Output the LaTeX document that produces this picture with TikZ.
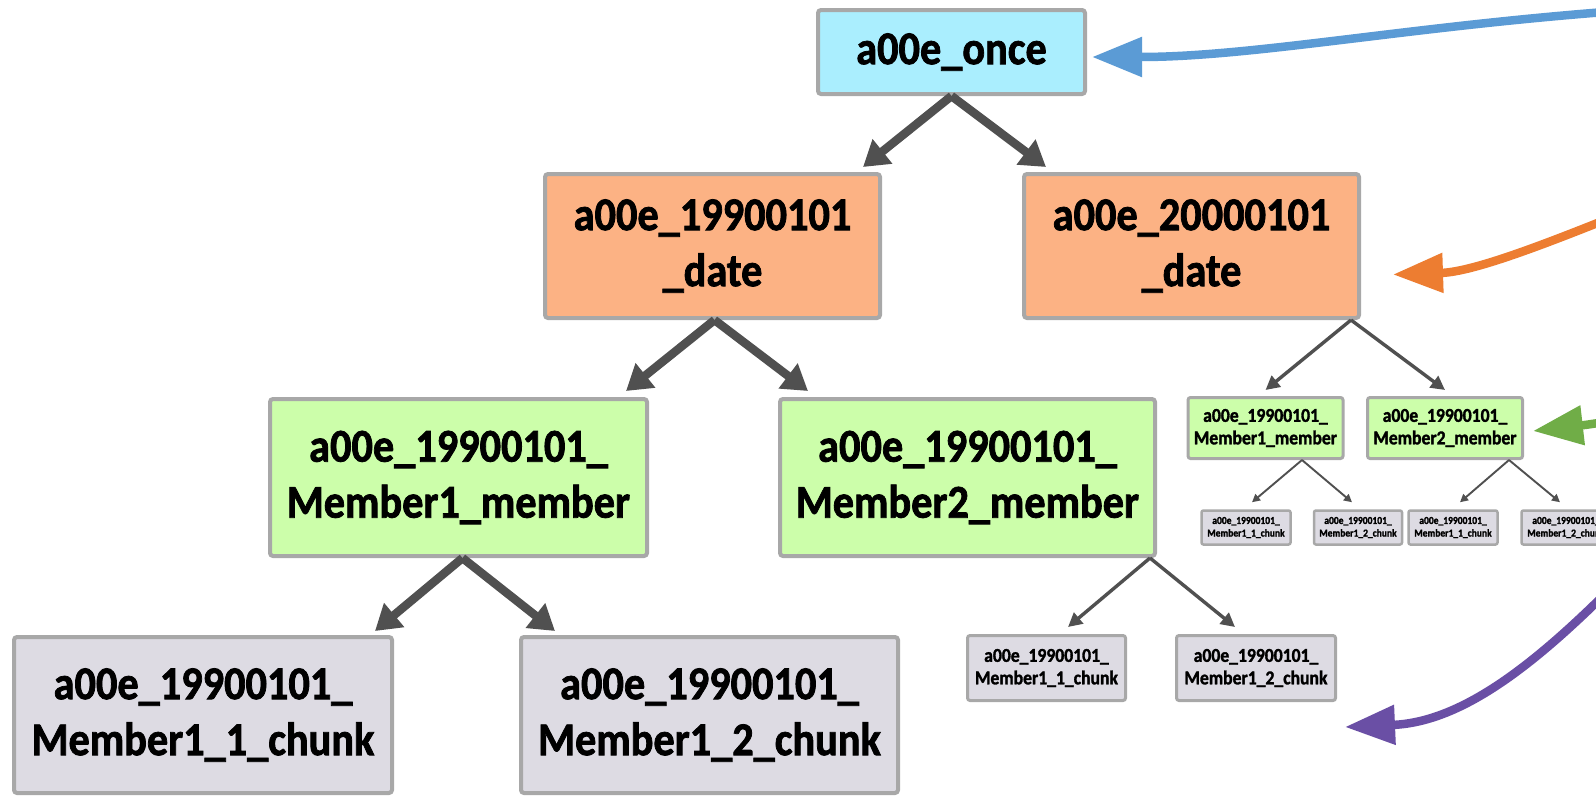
\documentclass[tikz,border=0pt]{standalone}
\usepackage{fontspec}
\setmainfont{Carlito}
\newfontfamily\lblfont[FakeStretch=0.9,FakeBold=1.6]{Carlito Bold}
\usetikzlibrary{arrows.meta}

\definecolor{oncefill}{RGB}{170,238,254}
\definecolor{datefill}{RGB}{252,178,132}
\definecolor{memberfill}{RGB}{204,254,170}
\definecolor{chunkfill}{RGB}{221,219,227}
\definecolor{boxline}{RGB}{168,168,168}
\definecolor{edgegray}{RGB}{80,80,80}
\definecolor{callblue}{RGB}{91,155,213}
\definecolor{callorange}{RGB}{237,125,49}
\definecolor{callgreen}{RGB}{112,173,71}
\definecolor{callpurple}{RGB}{106,79,165}

\begin{document}
\begin{tikzpicture}[x=1pt,y=-1pt,
  box/.style={draw=boxline, align=center, inner sep=0pt, text=black},
  sz/.style 2 args={minimum width=#1pt, minimum height=#2pt},
  bigbox/.style={box, line width=4pt, rounded corners=3pt,
    font=\lblfont\fontsize{47}{56}\selectfont},
  midbox/.style={box, line width=3pt, rounded corners=2.5pt,
    font=\lblfont\fontsize{19.6}{22.5}\selectfont},
  tinybox/.style={box, line width=2.5pt, rounded corners=2pt,
    font=\lblfont\fontsize{10.6}{12.6}\selectfont},
  oncebox/.style={fill=oncefill},
  datebox/.style={fill=datefill},
  memberbox/.style={fill=memberfill},
  chunkbox/.style={fill=chunkfill},
  bigedge/.style={draw=edgegray, line width=8.5pt,
    -{Triangle[length=25pt,width=30pt]}},
  midedge/.style={draw=edgegray, line width=3.4pt,
    -{Triangle[length=14pt,width=14pt]}},
  tinyedge/.style={draw=edgegray, line width=1.9pt,
    -{Triangle[length=8pt,width=8pt]}},
  callout/.style={line width=8.5pt, -{Triangle[length=50pt,width=38pt]}}
]
\useasboundingbox (0,0) rectangle (1596,796);
\clip (0,0) rectangle (1596,796);
\fill[white] (0,0) rectangle (1596,796);

% ---- full-size tree ----
\node[bigbox, oncebox, sz={267}{84}] (once) at (951.5,52) {a00e\_once};
\node[bigbox, datebox, sz={335}{144}] (d1) at (712.5,246) {a00e\_19900101\\\_date};
\node[bigbox, datebox, sz={335}{144}] (d2) at (1191.5,246) {a00e\_20000101\\\_date};
\node[bigbox, memberbox, sz={377}{157}] (m1) at (458.5,477.5) {a00e\_19900101\_\\Member1\_member};
\node[bigbox, memberbox, sz={375}{157}] (m2) at (967.5,477.5) {a00e\_19900101\_\\Member2\_member};
\node[bigbox, chunkbox, sz={378}{156}] (c1) at (203,715) {a00e\_19900101\_\\Member1\_1\_chunk};
\node[bigbox, chunkbox, sz={377}{156}] (c2) at (709.5,715) {a00e\_19900101\_\\Member1\_2\_chunk};

% ---- reduced subtrees ----
\node[midbox, chunkbox, sz={158}{65}] (sc1) at (1046.5,668) {a00e\_19900101\_\\Member1\_1\_chunk};
\node[midbox, chunkbox, sz={159}{65}] (sc2) at (1256,668) {a00e\_19900101\_\\Member1\_2\_chunk};
\node[midbox, memberbox, sz={155}{61}] (tm1) at (1265.5,428) {a00e\_19900101\_\\Member1\_member};
\node[midbox, memberbox, sz={155}{61}] (tm2) at (1445,428) {a00e\_19900101\_\\Member2\_member};

\node[tinybox, chunkbox, sz={89}{34}] (tc1) at (1246,527.5) {a00e\_19900101\_\\Member1\_1\_chunk};
\node[tinybox, chunkbox, sz={88}{34}] (tc2) at (1358,527.5) {a00e\_19900101\_\\Member1\_2\_chunk};
\node[tinybox, chunkbox, sz={89}{34}] (tc3) at (1453,527.5) {a00e\_19900101\_\\Member1\_1\_chunk};
\node[tinybox, chunkbox, sz={89}{34}] (tc4) at (1566,527.5) {a00e\_19900101\_\\Member1\_2\_chunk};

% ---- tree edges ----
\draw[bigedge] (once.south) -- ([xshift=-19pt,yshift=5pt]d1.north east);
\draw[bigedge] (once.south) -- ([xshift=24pt,yshift=5pt]d2.north west);
\draw[bigedge] ([xshift=2pt]d1.south) -- ([xshift=-23pt,yshift=6pt]m1.north east);
\draw[bigedge] ([xshift=2pt]d1.south) -- ([xshift=30pt,yshift=6pt]m2.north west);
\draw[bigedge] ([xshift=4pt]m1.south) -- ([xshift=-19pt,yshift=4pt]c1.north east);
\draw[bigedge] ([xshift=4pt]m1.south) -- ([xshift=36pt,yshift=4pt]c2.north west);

\draw[midedge] ([xshift=-10pt]d2.south east) -- ([yshift=6pt]tm1.north);
\draw[midedge] ([xshift=-10pt]d2.south east) -- ([yshift=6pt]tm2.north);
\draw[midedge] ([xshift=-7pt]m2.south east) -- ([xshift=21.5pt,yshift=7pt]sc1.north);
\draw[midedge] ([xshift=-7pt]m2.south east) -- ([xshift=-21pt,yshift=7pt]sc2.north);

\draw[tinyedge] ([xshift=36.5pt]tm1.south) -- ([xshift=6pt,yshift=7pt]tc1.north);
\draw[tinyedge] ([xshift=36.5pt]tm1.south) -- ([xshift=-6pt,yshift=7pt]tc2.north);
\draw[tinyedge] ([xshift=64pt]tm2.south) -- ([xshift=7pt,yshift=7pt]tc3.north);
\draw[tinyedge] ([xshift=64pt]tm2.south) -- ([xshift=-6pt,yshift=7pt]tc4.north);

% ---- coloured pointers coming in from the right ----
\coordinate (blueIn) at (1605,12);
\coordinate (orangeIn) at (1605,220);
\coordinate (greenIn) at (1605,422);
\coordinate (purpleIn) at (1605,594);

\draw[callout, callblue] (blueIn) .. controls (1400,28) and (1250,57) .. ([xshift=5pt,yshift=-5pt]once.east);
\draw[callout, callorange] (orangeIn) .. controls (1530,250) and (1470,272) .. ([xshift=32pt,yshift=-28.5pt]d2.east);
\draw[callout, callgreen] (greenIn) .. controls (1585,425) .. ([xshift=9pt,yshift=-3pt]tm2.east);
\draw[callout, callpurple] (purpleIn) .. controls (1530,668) and (1460,722) .. ([xshift=8pt,yshift=-25pt]sc2.south east);
\end{tikzpicture}
\end{document}
